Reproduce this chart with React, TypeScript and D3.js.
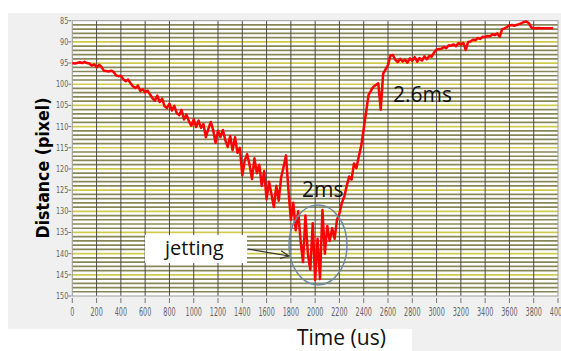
import React from 'react';
import * as d3 from 'd3';

// time axis (us) and measured distance (pixel)
const times: number[] = d3.range(0, 3980, 20);
const distance: number[] = [
  95.0, 95.1, 95.0, 94.8, 95.0, 94.7, 95.0, 95.1, 95.6, 95.3,
  96.0, 95.4, 95.9, 96.8, 96.9, 97.0, 96.8, 97.1, 97.9, 98.1,
  98.0, 98.8, 99.3, 98.9, 99.8, 100.5, 100.9, 100.3, 101.6, 101.2,
  101.9, 101.5, 102.4, 103.3, 103.9, 102.7, 104.2, 103.4, 105.2, 105.6,
  104.6, 106.2, 105.1, 106.8, 107.3, 106.1, 108.3, 107.2, 108.7, 109.8,
  108.3, 110.1, 108.6, 110.3, 109.4, 112.5, 110.6, 108.9, 110.8, 113.8,
  111.0, 112.5, 110.8, 113.2, 114.8, 112.2, 115.6, 112.5, 116.2, 115.0,
  121.5, 118.0, 116.5, 119.0, 122.4, 117.5, 121.0, 119.0, 124.0, 120.5,
  127.2, 123.0, 126.0, 129.0, 124.0, 127.5, 122.0, 119.5, 116.8, 125.0,
  132.0, 128.0, 134.5, 130.0, 137.0, 142.0, 131.0, 140.0, 143.8, 132.8,
  146.2, 136.5, 146.0, 129.7, 140.0, 133.5, 137.0, 134.0, 136.5, 132.0,
  130.5, 128.0, 126.5, 124.0, 121.8, 122.5, 118.7, 119.8, 117.0, 114.5,
  110.5, 106.5, 102.5, 101.5, 100.6, 100.2, 99.8, 106.0, 97.5, 96.5,
  95.5, 93.2, 93.1, 94.2, 94.8, 94.0, 94.6, 94.2, 94.9, 93.9,
  94.5, 93.6, 94.7, 93.8, 94.4, 93.4, 94.1, 93.3, 93.5, 92.5,
  91.8, 91.7, 91.6, 91.2, 91.5, 90.8, 90.9, 90.6, 91.0, 90.3,
  90.6, 90.2, 91.9, 90.0, 89.9, 89.5, 89.6, 89.1, 89.3, 88.8,
  88.9, 88.6, 88.7, 88.2, 88.4, 88.0, 88.8, 87.0, 86.8, 86.5,
  86.1, 86.0, 86.2, 86.0, 85.8, 85.6, 85.3, 85.2, 85.6, 86.6,
  86.8, 86.8, 86.7, 86.8, 86.8, 86.8, 86.8, 86.8, 86.8,
];
const xTicks: number[] = d3.range(0, 4001, 200);
const yTicks: number[] = d3.range(85, 151, 5);
const gridRows: number[] = d3.range(86, 150, 1);

const App = () => {
  const width = 561;
  const height = 351;

  const x = d3.scaleLinear().domain([0, 4000]).range([72.3, 558]);
  const y = d3.scaleLinear().domain([85, 150]).range([20.7, 296]);

  const points: [number, number][] = times.map((t, i) => [t, distance[i]]);
  const line = d3
    .line<[number, number]>()
    .x(d => x(d[0]))
    .y(d => y(d[1]));

  const tickFont = "'Liberation Sans Narrow', 'DejaVu Sans Condensed', sans-serif";
  const textFont = "'Open Sans', 'Noto Sans', sans-serif";

  return (
    <svg
      width={width}
      height={height}
      style={{ position: 'absolute', left: 0, top: 0 }}
    >
      <defs>
        <marker id="arr" viewBox="0 0 10 10" refX="9" refY="5" markerWidth="8" markerHeight="8" orient="auto">
          <path d="M0,1 L9,5 L0,9" fill="none" stroke="#333" strokeWidth="1.2" />
        </marker>
      </defs>
      <rect x={0} y={0} width={width} height={height} fill="#fff" />
      {/* gray panel */}
      <rect x={8} y={13} width={553} height={316} fill="#f0f0f0" />
      <rect x={412} y={322} width={149} height={29} fill="#f0f0f0" />

      {/* plot area */}
      <rect x={x(0)} y={y(85)} width={x(4000) - x(0)} height={y(150) - y(85)} fill="#fff" />
      {gridRows.map(v => (
        <line
          key={'h' + v}
          x1={x(0)}
          x2={x(4000)}
          y1={y(v)}
          y2={y(v)}
          stroke={v % 5 === 0 ? '#cfcb4c' : '#878758'}
          strokeWidth={1.7}
        />
      ))}
      {xTicks.slice(1, -1).map(t => (
        <line key={'v' + t} x1={x(t)} x2={x(t)} y1={y(85)} y2={y(150)} stroke="#4a4a4a" strokeWidth={1} />
      ))}
      <rect x={x(0)} y={y(85)} width={x(4000) - x(0)} height={y(150) - y(85)} fill="none" stroke="#9a9a9a" strokeWidth={1} />

      {/* y axis */}
      {yTicks.map(v => (
        <g key={'y' + v}>
          <line x1={x(0) - 4} x2={x(0) - 1} y1={y(v)} y2={y(v)} stroke="#777" />
          <text
            transform={`translate(${x(0) - 4},${y(v) + 3}) scale(0.8,1)`}
            textAnchor="end"
            fontFamily={tickFont}
            fontSize={9}
            fill="#666"
          >
            {v}
          </text>
        </g>
      ))}

      {/* x axis */}
      {xTicks.map(t => (
        <g key={'x' + t}>
          <line x1={x(t)} x2={x(t)} y1={298} y2={303} stroke="#777" />
          <text
            transform={`translate(${x(t)},316) scale(0.55,1)`}
            textAnchor="middle"
            fontFamily={tickFont}
            fontSize={13}
            fill="#666"
          >
            {t}
          </text>
        </g>
      ))}

      {/* data */}
      <path d={line(points) || ''} fill="none" stroke="#ff0000" strokeWidth={2.5} strokeLinejoin="round" />

      {/* annotations */}
      <ellipse cx={318} cy={245} rx={29} ry={40} fill="none" stroke="#6f89a3" strokeWidth={1.5} />
      <rect x={145} y={235} width={102} height={28} fill="#fff" />
      <text x={165} y={255} fontFamily={textFont} fontSize={20} fill="#111">jetting</text>
      <line x1={248} y1={249} x2={289} y2={256} stroke="#333" strokeWidth={1.2} markerEnd="url(#arr)" />
      <text x={302} y={197} fontFamily={textFont} fontSize={21} fill="#111">2ms</text>
      <text x={393} y={102} fontFamily={textFont} fontSize={21} fill="#111">2.6ms</text>

      {/* axis titles */}
      <text
        transform="translate(49,168) rotate(-90)"
        textAnchor="middle"
        fontFamily="'DejaVu Sans Condensed', 'DejaVu Sans', sans-serif"
        fontWeight="bold"
        fontSize={17}
        fill="#000"
        textLength={141}
        lengthAdjust="spacingAndGlyphs"
      >
        Distance (pixel)
      </text>
      <text x={297} y={345} fontFamily={textFont} fontSize={21} fill="#111">Time (us)</text>
    </svg>
  );
};

export default App;
